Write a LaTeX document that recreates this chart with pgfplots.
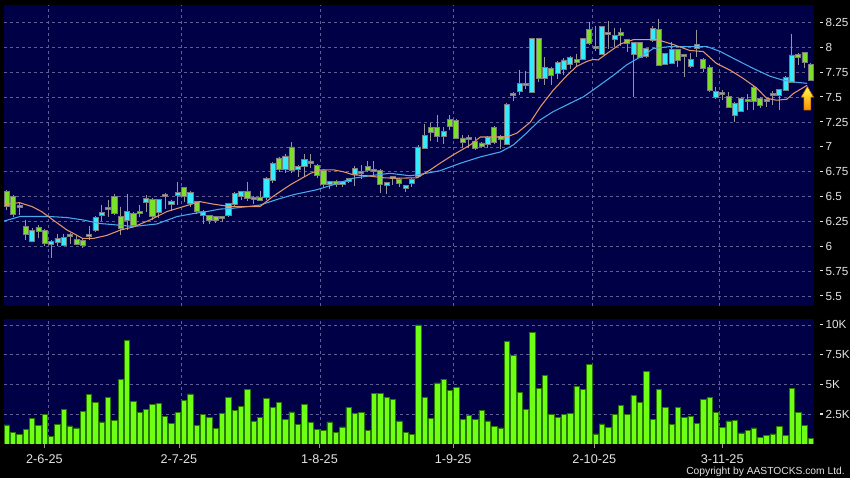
\documentclass[border=0pt]{standalone}
\usepackage{pgfplots}
\pgfplotsset{compat=1.18}
\usepackage{pgfplotstable}
\usepackage{fontspec}
\setmainfont{Liberation Sans}

\definecolor{navy}{RGB}{0,0,70}
\definecolor{gridc}{RGB}{95,95,150}
\definecolor{upc}{RGB}{50,235,255}
\definecolor{dnc}{RGB}{120,225,40}
\definecolor{edgec}{RGB}{125,125,125}
\definecolor{wickc}{RGB}{150,150,150}
\definecolor{dojic}{RGB}{160,160,160}
\definecolor{volc}{RGB}{110,255,20}
\definecolor{voledge}{RGB}{40,120,0}
\definecolor{maten}{RGB}{225,150,105}
\definecolor{matwenty}{RGB}{70,170,235}
\definecolor{labc}{RGB}{228,228,228}

% tick label with the little dash in front of it
\newcommand{\tk}[1]{\rule[2.8pt]{2.4pt}{0.8pt}\hspace{1.6pt}#1}

% i, open, high, low, close, volume (K)
\pgfplotstableread{
i o h l c v
0 6.55 6.57 6.37 6.40 1.60
1 6.50 6.52 6.30 6.32 0.96
2 6.39 6.45 6.32 6.39 0.79
3 6.20 6.27 6.06 6.12 1.24
4 6.05 6.18 6.04 6.16 2.14
5 6.19 6.21 6.08 6.15 1.58
6 6.16 6.17 6.00 6.03 2.50
7 6.02 6.06 5.88 6.05 0.62
8 6.04 6.12 6.00 6.08 1.63
9 6.01 6.12 6.00 6.09 2.90
10 6.10 6.13 6.02 6.10 1.52
11 6.07 6.10 6.01 6.02 1.35
12 6.06 6.08 5.98 6.01 2.73
13 6.10 6.20 6.06 6.12 4.17
14 6.16 6.31 6.14 6.29 3.52
15 6.31 6.42 6.26 6.34 1.86
16 6.37 6.47 6.30 6.37 3.94
17 6.50 6.53 6.32 6.33 2.00
18 6.30 6.40 6.11 6.18 5.44
19 6.265 6.53 6.16 6.35 8.68
20 6.33 6.35 6.20 6.21 3.60
21 6.35 6.42 6.30 6.33 2.65
22 6.44 6.52 6.35 6.48 2.90
23 6.475 6.49 6.27 6.30 3.32
24 6.34 6.48 6.29 6.475 3.41
25 6.50 6.54 6.38 6.50 2.31
26 6.42 6.47 6.36 6.45 1.72
27 6.51 6.65 6.42 6.545 2.62
28 6.59 6.60 6.45 6.50 3.69
29 6.43 6.56 6.40 6.54 4.20
30 6.45 6.46 6.33 6.355 1.55
31 6.315 6.37 6.22 6.35 2.48
32 6.315 6.32 6.22 6.265 2.25
33 6.30 6.31 6.23 6.26 1.32
34 6.28 6.31 6.24 6.28 2.59
35 6.315 6.44 6.30 6.43 3.89
36 6.425 6.55 6.40 6.53 2.82
37 6.505 6.56 6.47 6.55 3.18
38 6.555 6.65 6.46 6.48 4.59
39 6.475 6.51 6.43 6.475 1.92
40 6.49 6.56 6.46 6.465 2.25
41 6.49 6.70 6.47 6.68 3.80
42 6.66 6.85 6.64 6.835 3.10
43 6.89 6.90 6.75 6.77 3.46
44 6.77 6.93 6.74 6.91 2.08
45 7.00 7.05 6.74 6.76 2.70
46 6.77 6.82 6.70 6.80 1.66
47 6.80 6.93 6.70 6.875 3.35
48 6.84 6.93 6.79 6.84 1.80
49 6.81 6.83 6.69 6.71 1.21
50 6.76 6.78 6.60 6.62 1.13
51 6.62 6.66 6.58 6.65 1.86
52 6.65 6.67 6.60 6.62 0.96
53 6.62 6.66 6.60 6.65 1.44
54 6.65 6.69 6.64 6.68 3.04
55 6.72 6.81 6.61 6.785 2.59
56 6.73 6.82 6.68 6.73 2.68
57 6.80 6.86 6.75 6.76 1.13
58 6.75 6.86 6.72 6.75 4.23
59 6.76 6.78 6.54 6.62 4.28
60 6.61 6.65 6.53 6.64 3.89
61 6.68 6.70 6.62 6.68 3.72
62 6.67 6.69 6.60 6.63 1.94
63 6.58 6.62 6.55 6.615 0.96
64 6.63 6.69 6.60 6.67 0.79
65 6.70 7.02 6.69 7.00 10.0
66 6.99 7.23 6.98 7.12 3.89
67 7.20 7.24 7.06 7.15 2.17
68 7.20 7.32 7.05 7.11 5.13
69 7.11 7.20 7.03 7.16 5.44
70 7.28 7.32 7.17 7.21 4.51
71 7.27 7.28 7.08 7.09 4.73
72 7.09 7.12 6.99 7.045 2.08
73 7.08 7.12 6.99 7.08 2.37
74 7.055 7.10 6.97 6.99 2.06
75 7.04 7.05 6.99 7.01 2.79
76 7.03 7.11 6.99 7.10 1.94
77 7.20 7.21 7.03 7.045 1.49
78 7.11 7.12 6.98 7.075 1.35
79 7.03 7.44 7.02 7.43 8.59
80 7.515 7.55 7.46 7.515 7.46
81 7.56 7.77 7.52 7.64 4.34
82 7.62 7.76 7.58 7.62 2.93
83 7.55 8.10 7.54 8.09 9.35
84 8.09 8.10 7.65 7.69 4.70
85 7.69 7.90 7.62 7.80 5.75
86 7.79 7.80 7.62 7.72 2.48
87 7.74 7.86 7.68 7.85 2.25
88 7.78 7.89 7.72 7.875 2.48
89 7.83 7.91 7.78 7.90 2.56
90 7.88 7.94 7.80 7.85 4.85
91 7.88 8.10 7.87 8.09 4.56
92 8.18 8.26 8.03 8.04 6.70
93 7.99 8.22 7.97 7.99 0.85
94 7.93 8.22 7.92 8.21 1.69
95 8.15 8.27 7.99 8.13 1.41
96 8.08 8.20 8.01 8.12 2.45
97 8.15 8.20 8.02 8.12 3.21
98 8.08 8.09 7.96 8.04 2.50
99 7.93 8.06 7.505 8.05 4.06
100 8.05 8.06 7.89 7.90 3.49
101 7.91 8.00 7.89 7.99 6.11
102 8.07 8.22 8.06 8.19 2.08
103 8.18 8.29 7.81 7.82 4.59
104 7.83 7.95 7.82 7.94 3.07
105 7.84 8.06 7.83 7.98 1.66
106 7.98 7.99 7.80 7.87 3.04
107 7.91 7.93 7.70 7.91 2.25
108 7.81 7.95 7.79 7.88 2.31
109 7.99 8.18 7.90 8.03 1.75
110 7.88 7.89 7.75 7.79 3.75
111 7.80 7.82 7.55 7.565 3.89
112 7.50 7.60 7.48 7.555 2.62
113 7.53 7.57 7.47 7.53 1.41
114 7.505 7.55 7.39 7.40 1.94
115 7.32 7.45 7.25 7.44 2.00
116 7.355 7.50 7.35 7.49 0.93
117 7.48 7.53 7.37 7.455 1.13
118 7.60 7.61 7.37 7.455 1.35
119 7.49 7.50 7.39 7.42 0.56
120 7.46 7.47 7.40 7.46 0.70
121 7.52 7.56 7.42 7.52 0.85
122 7.52 7.58 7.37 7.575 1.46
123 7.57 7.71 7.56 7.70 0.70
124 7.645 8.14 7.64 7.925 4.68
125 7.93 7.95 7.82 7.90 2.62
126 7.955 7.96 7.79 7.85 1.58
127 7.83 7.84 7.67 7.675 0.48
}\candles

% positions in pt: 1px of the reference = 0.75pt
\pgfplotsset{
  panel/.style={scale only axis, width=607.5pt, xmin=-0.43, xmax=127.5,
    anchor=south west},
  pricepanel/.style={panel, at={(3pt,129pt)}, height=225.75pt, ymin=5.40, ymax=8.428},
  gridlook/.style={
    axis background/.style={fill=navy},
    axis line style={draw=none},
    xmajorgrids, ymajorgrids,
    grid style={gridc, line width=0.5pt, dash pattern=on 2.25pt off 2.25pt},
    major tick length=0pt,
    xtick pos=bottom, ytick pos=right, yticklabel pos=right,
    xtick={6.57,27.64,49.6,70.54,92.5,112.55}, xticklabels={},
    yticklabel style={anchor=west, inner sep=0pt, xshift=4.5pt,
      font=\fontsize{8.8pt}{10pt}\selectfont, text=labc},
  },
}

\begin{document}
\begin{tikzpicture}[x=0.75pt,y=0.75pt]
\fill[black] (0,0) rectangle (850,478);

% price panel: grid, labels, wicks
\begin{axis}[pricepanel, gridlook,
  ytick={5.5,5.75,6,6.25,6.5,6.75,7,7.25,7.5,7.75,8,8.25},
  yticklabels={\tk{5.5},\tk{5.75},\tk{6},\tk{6.25},\tk{6.5},\tk{6.75},\tk{7},\tk{7.25},\tk{7.5},\tk{7.75},\tk{8},\tk{8.25}},
]
\addplot[draw=none, mark=none, forget plot,
  error bars/.cd, y dir=minus, y explicit, error mark=none,
  error bar style={draw=wickc, line width=0.7pt}]
  table[x=i, y=h, y error minus expr={\thisrow{h}-\thisrow{l}}] {\candles};
\end{axis}

% candle bodies
\begin{axis}[pricepanel, hide axis, ybar stacked, bar width=0.8]
\addplot[draw=none, fill=none] table[x=i, y expr={min(\thisrow{o},\thisrow{c})}] {\candles};
\addplot[fill=upc, draw=edgec, line width=0.5pt] table[x=i, y expr={max(\thisrow{c}-\thisrow{o},0)}] {\candles};
\addplot[fill=dnc, draw=edgec, line width=0.5pt] table[x=i, y expr={max(\thisrow{o}-\thisrow{c},0)}] {\candles};
\addplot[fill=dojic, draw=edgec, line width=0.5pt] table[x=i, y expr={ifthenelse(abs(\thisrow{c}-\thisrow{o})<0.001,0.02,0)}] {\candles};
\end{axis}

% moving averages and the arrow
\begin{axis}[pricepanel, hide axis]
\addplot[matwenty, line width=0.8pt] coordinates {
(-0.4,6.255) (2.1,6.30) (6.8,6.30) (9.5,6.29) (12.1,6.265) (14.7,6.23) (17.4,6.215)
(20,6.20) (23.7,6.225) (26.9,6.30) (29.5,6.33) (31.6,6.35) (33.7,6.375) (35.3,6.38)
(40,6.415) (42.6,6.47) (45.3,6.52) (49,6.57) (52.1,6.63) (54.7,6.685) (57.4,6.71)
(60.5,6.735) (63.7,6.71) (65.8,6.73) (68.4,6.76) (71.6,6.835) (74.8,6.90) (78,6.95)
(80,7.02) (82.1,7.14) (84.2,7.27) (86.3,7.355) (89,7.44) (91.1,7.505) (93.2,7.60)
(95.8,7.72) (97.9,7.825) (100.6,7.925) (102.1,7.99) (104.8,8.01) (110.6,8.01)
(112.7,7.96) (114.8,7.89) (117.9,7.79) (120.6,7.71) (122.7,7.67) (124.8,7.65) (126.4,7.64)
};
\addplot[maten, line width=0.8pt] coordinates {
(-0.3,6.42) (2,6.44) (4,6.40) (5.5,6.35) (7,6.28) (9.5,6.165) (12,6.08) (13.7,6.08)
(15.8,6.11) (18,6.165) (20,6.195) (22.6,6.265) (25.3,6.35) (27.9,6.40) (30.5,6.45)
(32.6,6.425) (35.3,6.40) (40,6.40) (42,6.50) (44.8,6.62) (48,6.735) (49.5,6.77)
(51.6,6.77) (53.2,6.75) (54.7,6.72) (56.9,6.71) (59.5,6.69) (61.6,6.685) (64.8,6.69)
(66.9,6.77) (68.4,6.835) (70.5,6.92) (73.2,7.02) (74.8,7.10) (76.3,7.10) (79,7.10)
(80.6,7.14) (82.7,7.25) (84.3,7.405) (86.3,7.57) (88.5,7.72) (90,7.81) (91.6,7.86)
(92.6,7.88) (93.4,7.875) (94.8,7.94) (96.9,8.035) (99,8.08) (102.7,8.08) (105.3,8.03)
(107.9,7.97) (110,7.96) (112.1,7.84) (114.3,7.77) (116.3,7.69) (118.5,7.59) (120,7.49)
(121.6,7.47) (123.2,7.48) (124.3,7.54) (126.4,7.62)
};
\filldraw[top color=yellow!70!white, bottom color=orange!90!yellow, draw=orange!60!black, line width=0.4pt]
  (axis cs:126.45,7.61) -- (axis cs:127.45,7.50) -- (axis cs:127.0,7.50) -- (axis cs:127.0,7.37)
  -- (axis cs:125.9,7.37) -- (axis cs:125.9,7.50) -- (axis cs:125.45,7.50) -- cycle;
\end{axis}

% volume panel
\begin{axis}[panel, gridlook, at={(3pt,25.5pt)}, height=93.75pt, ymin=0, ymax=10.5,
  ybar, bar width=0.85,
  ytick={2.5,5,7.5,10},
  yticklabels={\tk{2.5K},\tk{5K},\tk{7.5K},\tk{10K}},
  extra x ticks={5.94,27.2,49.4,70.5,92.8,113.0},
  extra x tick labels={2-6-25,2-7-25,1-8-25,1-9-25,2-10-25,3-11-25},
  extra x tick style={grid=none, major tick length=3pt, tick align=outside,
    tick style={draw=wickc, line width=0.6pt}},
  xticklabel style={anchor=north, inner sep=0pt, yshift=-4.8pt,
    font=\fontsize{9.5pt}{11pt}\selectfont, text=labc},
]
\addplot[fill=volc, draw=voledge, line width=0.5pt] table[x=i, y=v] {\candles};
\end{axis}

\node[anchor=base east, inner sep=0pt, text=labc, font=\fontsize{7.7pt}{9pt}\selectfont]
  at (845,3.6) {Copyright by AASTOCKS.com Ltd.};

\pgfresetboundingbox
\useasboundingbox (0,0) rectangle (850,478);
\end{tikzpicture}
\end{document}
